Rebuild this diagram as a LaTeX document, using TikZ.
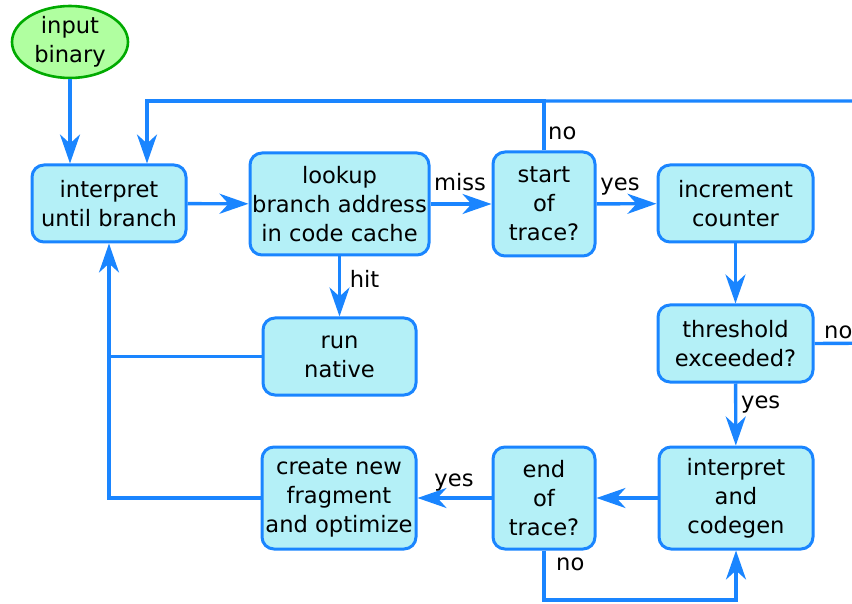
\documentclass[tikz,border=0pt]{standalone}
\usepackage{fontspec}
\setmainfont{DejaVu Sans}
\usetikzlibrary{arrows.meta,shapes.geometric}
\definecolor{flowblue}{RGB}{26,133,255}
\definecolor{boxfill}{RGB}{180,240,247}
\definecolor{startfill}{RGB}{176,255,160}
\definecolor{startline}{RGB}{0,170,0}
\tikzset{
  x=1pt, y=-1pt,
  every node/.style={font=\fontsize{22.6}{29}\selectfont, text=black},
  stepbox/.style={draw=flowblue, fill=boxfill, line width=3pt,
    rounded corners=12pt, align=center, inner sep=0pt},
  startnode/.style={ellipse, draw=startline, fill=startfill, line width=2.6pt,
    align=center, inner sep=0pt, minimum width=116pt, minimum height=64pt},
  flow/.style={draw=flowblue, line width=3.4pt,
    -{Stealth[length=29pt, width=20pt, inset=9pt]}},
  link/.style={draw=flowblue, line width=3.4pt},
  lbl/.style={anchor=base, inner sep=0pt},
}
\begin{document}
\begin{tikzpicture}
\useasboundingbox (0,0) rectangle (852,604);
\clip (0,0) rectangle (852,604);

% nodes
\node[startnode] (input) at (70,42) {input\\binary};
\node[stepbox, minimum width=154pt, minimum height=77pt] (interp) at (109,203.5) {interpret\\until branch};
\node[stepbox, minimum width=179pt, minimum height=102pt] (lookup) at (339.5,204) {lookup\\branch address\\in code cache};
\node[stepbox, minimum width=102pt, minimum height=104pt] (start) at (544,204) {start\\of\\trace?};
\node[stepbox, minimum width=155pt, minimum height=77pt] (incr) at (735.5,203.5) {increment\\counter};
\node[stepbox, minimum width=155pt, minimum height=77pt] (thresh) at (735.5,343.5) {threshold\\exceeded?};
\node[stepbox, minimum width=153pt, minimum height=77pt] (native) at (339.5,356.5) {run\\native};
\node[stepbox, minimum width=154pt, minimum height=102pt] (codegen) at (736,498) {interpret\\and\\codegen};
\node[stepbox, minimum width=102pt, minimum height=102pt] (endtr) at (544,498) {end\\of\\trace?};
\node[stepbox, minimum width=154pt, minimum height=102pt] (create) at (339,498) {create new\\fragment\\and optimize};

% junction points of the connectors
\coordinate (topleft) at (147,101);
\coordinate (topmid) at (544,101);
\coordinate (farright) at (900,343);
\coordinate (leftbus) at (109,356.5);
\coordinate (bottom) at (544,600);

% connectors
\draw[flow] (input) -- (interp.north -| input);
\draw[flow] (interp) -- (lookup);
\draw[flow] (lookup) -- (start);
\draw[flow] (start) -- (incr);
\draw[flow] (incr) -- (thresh);
\draw[flow] (thresh) -- (codegen);
\draw[flow] (codegen) -- (endtr);
\draw[flow] (endtr) -- (create);
\draw[flow] (lookup) -- (native);
\draw[flow] (start.north) -- (topmid) -- (topleft) -- (interp.north -| topleft);
\draw[link] (thresh.east) -- (farright) |- (topmid);
\draw[link] (native.west) -- (leftbus);
\draw[flow] (create.west) -| (interp.south);
\draw[flow] (endtr.south) -- (bottom) -| (codegen.south);

% connector labels
\node[lbl, anchor=base west] (lnostart) at (548,140) {no};
\node[lbl] (lmiss) at (460,191) {miss};
\node[lbl] (lyesstart) at (620,191) {yes};
\node[lbl] (lhit) at (364.5,288) {hit};
\node[lbl, anchor=base west] (lnothresh) at (824,338) {no};
\node[lbl, anchor=base west] (lyesthresh) at (741,408) {yes};
\node[lbl] (lyesend) at (454,486) {yes};
\node[lbl, anchor=base west] (lnoend) at (556,570) {no};
\end{tikzpicture}
\end{document}
